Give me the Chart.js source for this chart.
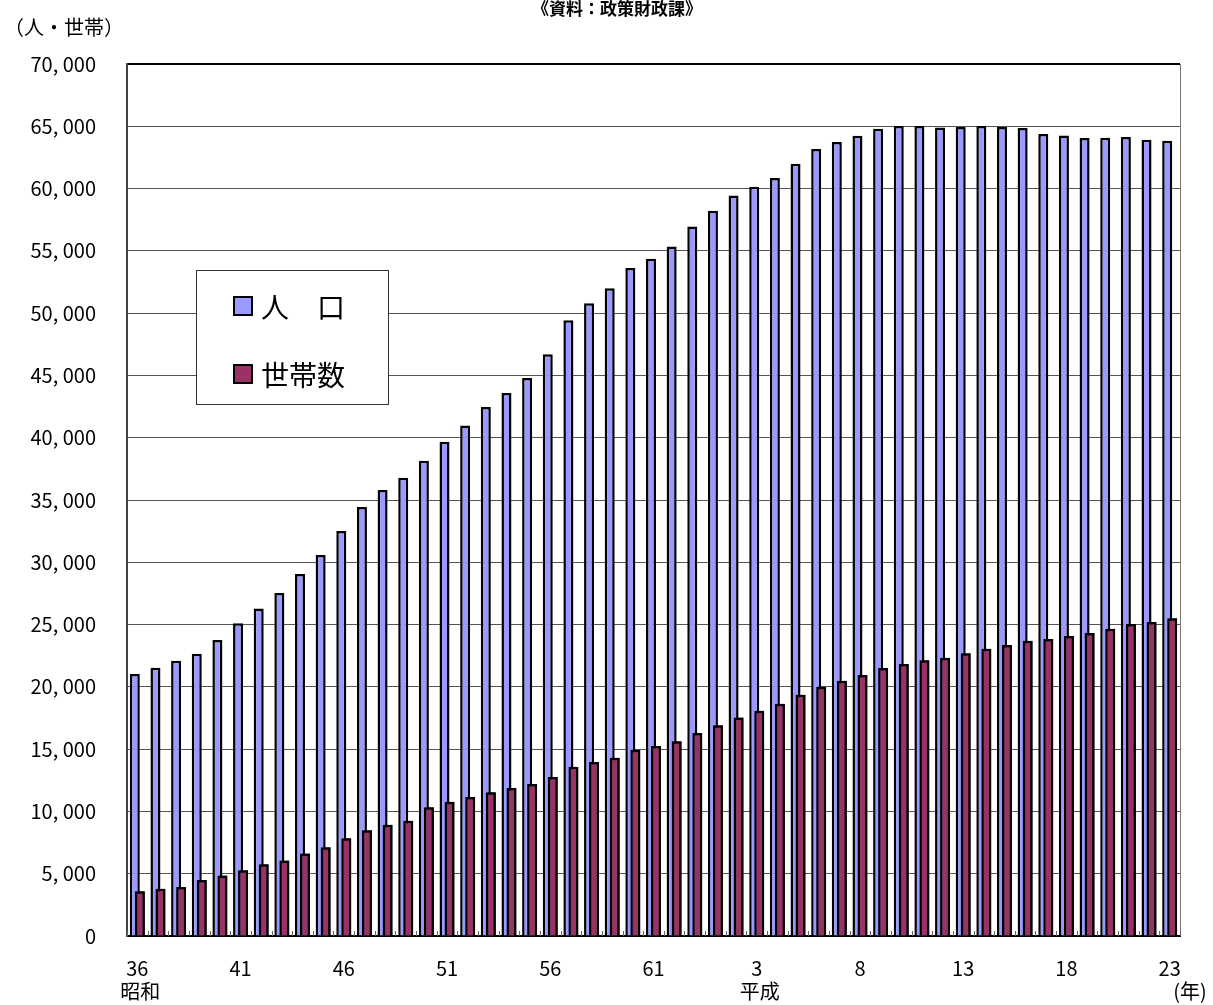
<!DOCTYPE html>
<html><head><meta charset="utf-8">
<script src="https://cdn.jsdelivr.net/npm/chart.js@4.4.1/dist/chart.umd.min.js"></script>
<style>
html,body{margin:0;padding:0;background:#fff;}
#wrap{width:1213px;height:1005px;position:relative;}
</style>
</head><body>
<div id="wrap"><canvas id="c"></canvas></div>
<script>
// ---- data ----
const categories = ['36','37','38','39','40','41','42','43','44','45','46','47','48','49','50','51','52','53','54','55','56','57','58','59','60','61','62','63',
  '1','2','3','4','5','6','7','8','9','10','11','12','13','14','15','16','17','18','19','20','21','22','23'];
const population = [21030,21540,22100,22660,23760,25100,26300,27530,29060,30590,
  32510,34440,35800,36790,38160,39680,40990,42460,43590,44790,
  46700,49420,50790,52000,53620,54370,55340,56950,58220,59450,
  60150,60850,62000,63180,63740,64250,64810,65020,65020,64910,
  64940,65020,64940,64860,64380,64270,64060,64080,64140,63920,63840];
const households = [3600,3800,3930,4500,4850,5270,5750,6070,6630,7120,
  7840,8480,8940,9260,10330,10780,11160,11530,11880,12200,
  12760,13590,13970,14310,14960,15250,15630,16300,16910,17550,
  18090,18650,19370,20010,20500,20950,21510,21840,22130,22340,
  22690,23060,23360,23710,23840,24080,24320,24670,25050,25210,25500];
const seriesNames = ['人　口', '世帯数'];
const eraLabels = [{index:0, text:'昭和'}, {index:30, text:'平成'}];
const yearUnit = '(年)';
const yAxisTitle = '（人・世帯）';
const sourceNote = '《資料：政策財政課》';
const yMin = 0, yMax = 70000, yStep = 5000;
const labelEvery = 5;

const FONT = "'Noto Sans CJK JP', 'Noto Sans', sans-serif";
const popColor = '#9999FF';
const hhColor = '#993366';

const extras = {
  id: 'extras',
  beforeDatasetsDraw(chart) {
    const {ctx, chartArea: a} = chart;
    ctx.save();
    ctx.strokeStyle = '#777';
    ctx.lineWidth = 1;
    ctx.beginPath();
    ctx.moveTo(a.right + 0.5, a.top);
    ctx.lineTo(a.right + 0.5, a.bottom);
    ctx.stroke();
    ctx.restore();
  },
  afterDatasetsDraw(chart) {
    const {ctx, chartArea: a} = chart;
    const xs = chart.scales.x;
    // inner category tick marks on the bottom axis
    ctx.save();
    ctx.strokeStyle = '#666';
    ctx.lineWidth = 1;
    ctx.beginPath();
    const half = (xs.getPixelForValue(1) - xs.getPixelForValue(0)) / 2;
    for (let i = 0; i <= categories.length; i++) {
      const px = Math.round(xs.getPixelForValue(i) - half) + 0.5;
      ctx.moveTo(px, a.bottom);
      ctx.lineTo(px, a.bottom - 5);
    }
    ctx.stroke();
    ctx.restore();
    // household bars sit in front of the population bars (as in the original)
    const meta = chart.getDatasetMeta(1);
    ctx.save();
    ctx.beginPath();
    ctx.rect(a.left, a.top, a.right - a.left, a.bottom - a.top);
    ctx.clip();
    meta.data.forEach(el => el.draw(ctx, a));
    ctx.restore();
  },
  afterDraw(chart) {
    const {ctx} = chart;
    const xs = chart.scales.x;
    ctx.save();
    ctx.fillStyle = '#000';
    ctx.font = 'bold 17px ' + FONT;
    ctx.textAlign = 'center';
    ctx.textBaseline = 'alphabetic';
    ctx.fillText(sourceNote, 617, 15);
    ctx.font = '20px ' + FONT;
    ctx.textAlign = 'left';
    ctx.textBaseline = 'middle';
    ctx.fillText(yAxisTitle, 4, 27);
    ctx.textAlign = 'center';
    eraLabels.forEach(e => {
      ctx.fillText(e.text, xs.getPixelForValue(e.index) + 3, 991);
    });
    ctx.fillText(yearUnit, 1190, 991);
    // legend
    const lx = 196, ly = 270, lw = 192, lh = 134;
    ctx.fillStyle = '#fff';
    ctx.fillRect(lx, ly, lw, lh);
    ctx.strokeStyle = '#333';
    ctx.lineWidth = 1;
    ctx.strokeRect(lx + 0.5, ly + 0.5, lw, lh);
    const ds = chart.data.datasets;
    const items = [
      {label: ds[0].label, color: ds[0].backgroundColor, y: 306},
      {label: ds[1].label, color: ds[1].backgroundColor, y: 374}
    ];
    items.forEach(it => {
      ctx.fillStyle = it.color;
      ctx.fillRect(234, it.y - 9, 18, 18);
      ctx.strokeStyle = '#000';
      ctx.lineWidth = 2;
      ctx.strokeRect(234, it.y - 9, 18, 18);
      ctx.fillStyle = '#000';
      ctx.font = '28px ' + FONT;
      ctx.textAlign = 'left';
      ctx.textBaseline = 'middle';
      ctx.fillText(it.label, 261, it.y + 1);
    });
    ctx.restore();
  }
};

new Chart(document.getElementById('c'), {
  type: 'bar',
  data: {
    labels: categories,
    datasets: [
      {label: seriesNames[0], data: population, backgroundColor: popColor,
       borderColor: '#000', borderWidth: 2.5, categoryPercentage: 0.485, barPercentage: 2.0},
      {label: seriesNames[1], data: households, backgroundColor: hhColor,
       borderColor: '#000', borderWidth: 2.5, categoryPercentage: 0.485, barPercentage: 2.0}
    ]
  },
  options: {
    responsive: true,
    maintainAspectRatio: false,
    animation: false,
    devicePixelRatio: 1,
    layout: {padding: {top: 64, right: 33, left: 0, bottom: 0}},
    plugins: {legend: {display: false}, tooltip: {enabled: false}, title: {display: false}},
    scales: {
      x: {
        type: 'category',
        offset: true,
        grid: {display: false, drawTicks: false},
        border: {display: true, color: '#000', width: 2},
        ticks: {
          autoSkip: false, maxRotation: 0, minRotation: 0, padding: 20,
          color: '#000', font: {family: FONT, size: 20},
          callback: (v, i) => (i % labelEvery === 0 ? categories[i] : '')
        },
        afterFit: s => { s.height = 69; }
      },
      y: {
        min: yMin, max: yMax,
        grid: {
          drawTicks: false,
          color: ctx => (ctx.tick && ctx.tick.value === yMax ? '#000' : '#555'),
          lineWidth: ctx => (ctx.tick && ctx.tick.value === yMax ? 2 : 1)
        },
        border: {display: true, color: '#444', width: 2},
        ticks: {
          stepSize: yStep, padding: 31, color: '#000',
          font: {family: FONT, size: 20},
          callback: v => v.toLocaleString('en-US').replace(',', ', ')
        },
        afterFit: s => { s.width = 127; }
      }
    }
  },
  plugins: [extras]
});
</script>
</body></html>
